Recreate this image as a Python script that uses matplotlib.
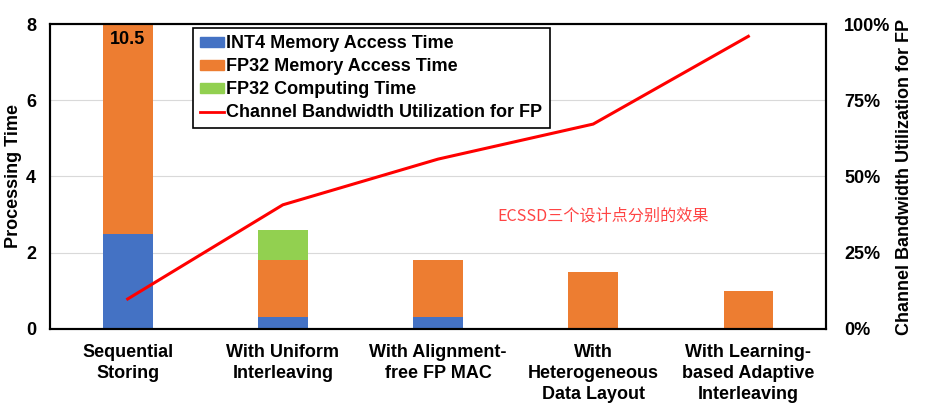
import matplotlib.pyplot as plt
from matplotlib.patches import Patch
from matplotlib.lines import Line2D
from matplotlib.ticker import PercentFormatter

categories = ['Sequential\nStoring', 'With Uniform\nInterleaving', 'With Alignment-\nfree FP MAC',
              'With\nHeterogeneous\nData Layout', 'With Learning-\nbased Adaptive\nInterleaving']
int4_mem = [2.5, 0.3, 0.3, 0.0, 0.0]
fp32_mem = [8.0, 1.5, 1.5, 1.5, 1.0]
fp32_comp = [0.0, 0.8, 0.0, 0.0, 0.0]
bw_util = [9.8, 40.7, 55.7, 67.2, 96.0]

blue = '#4472C4'
orange = '#ED7D31'
green = '#92D050'
red = '#FF0000'

plt.rcParams['font.family'] = ['Liberation Sans', 'DejaVu Sans']

fig = plt.figure(figsize=(9.28, 4.09), dpi=100)
ax = fig.add_axes([0.054, 0.196, 0.836, 0.745])

x = list(range(len(categories)))
w = 0.32
bottom2 = [a + b for a, b in zip(int4_mem, fp32_mem)]
ax.bar(x, int4_mem, w, color=blue, zorder=2)
ax.bar(x, fp32_mem, w, bottom=int4_mem, color=orange, zorder=2)
ax.bar(x, fp32_comp, w, bottom=bottom2, color=green, zorder=2)

ax.set_xlim(-0.5, 4.5)
ax.set_ylim(0, 8)
ax.set_yticks([0, 2, 4, 6, 8])
ax.grid(axis='y', color='#D9D9D9', linewidth=0.8, zorder=0)
ax.set_xticks(x)
ax.set_xticklabels(categories, fontsize=13, fontweight='bold', linespacing=1.3)
ax.tick_params(axis='y', length=0, pad=10)
ax.tick_params(axis='x', length=0, pad=11)
for lab in ax.get_yticklabels():
    lab.set_fontsize(13)
    lab.set_fontweight('bold')
ax.set_ylabel('Processing Time', fontsize=13, fontweight='bold', labelpad=3)
for s in ax.spines.values():
    s.set_linewidth(1.5)

ax.text(0, 7.6, '10.5', ha='center', va='center', fontsize=13, fontweight='bold', zorder=3)

ax2 = ax.twinx()
ax2.plot(x, bw_util, color=red, linewidth=2.2, zorder=3)
ax2.set_ylim(0, 100)
ax2.set_yticks([0, 25, 50, 75, 100])
ax2.yaxis.set_major_formatter(PercentFormatter(decimals=0))
ax2.tick_params(axis='y', length=0, pad=13)
for lab in ax2.get_yticklabels():
    lab.set_fontsize(13)
    lab.set_fontweight('bold')
ax2.set_ylabel('Channel Bandwidth Utilization for FP', fontsize=13, fontweight='bold', labelpad=4)
for s in ax2.spines.values():
    s.set_linewidth(1.5)

ax2.text(2.38, 37, 'ECSSD三个设计点分别的效果', color='#FF4444', fontsize=11.6,
         family=['Noto Sans CJK SC', 'DejaVu Sans'], va='center')

handles = [Patch(color=blue), Patch(color=orange), Patch(color=green),
           Line2D([], [], color=red, linewidth=2)]
labels = ['INT4 Memory Access Time', 'FP32 Memory Access Time', 'FP32 Computing Time',
          'Channel Bandwidth Utilization for FP']
leg = ax2.legend(handles, labels, loc='upper left', bbox_to_anchor=(0.184, 0.987),
                 borderaxespad=0, fancybox=False, edgecolor='black', framealpha=1,
                 prop={'weight': 'bold', 'size': 13}, handlelength=1.3, handleheight=0.45,
                 handletextpad=0.15, labelspacing=0.33, borderpad=0.4)
leg.get_frame().set_linewidth(1.2)

fig.savefig('out.png', dpi=100)
